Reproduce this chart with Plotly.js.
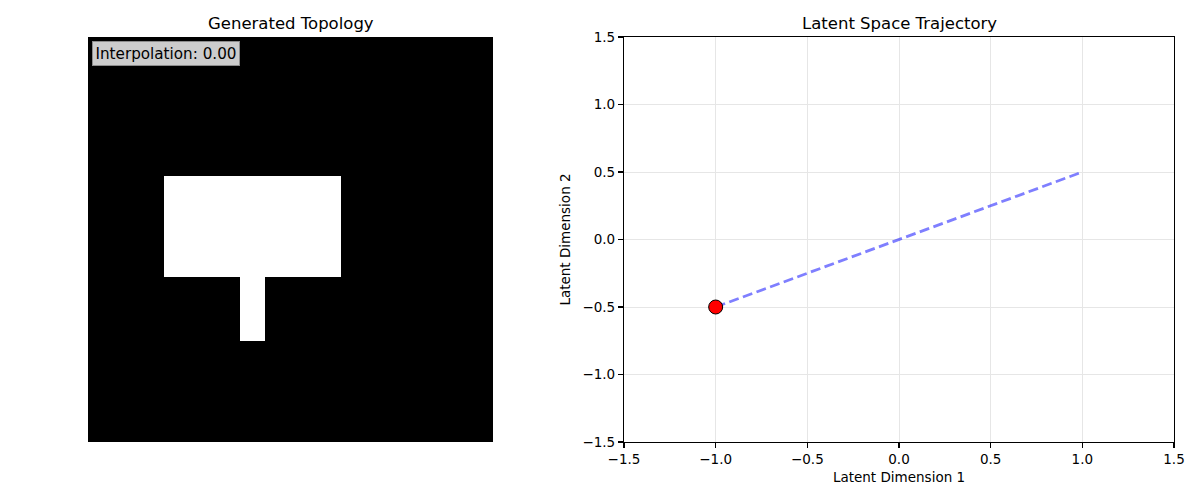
<!DOCTYPE html>
<html>
<head>
<meta charset="utf-8">
<script src="https://cdn.plot.ly/plotly-3.0.1.min.js"></script>
<style>html,body{margin:0;padding:0;background:#fff;}#chart{width:1200px;height:500px;}</style>
</head>
<body>
<div id="chart"></div>
<script>
// 32x32 binary topology grid (1 = material/white, 0 = void/black)
const topologyRows = [
  "00000000000000000000000000000000",
  "00000000000000000000000000000000",
  "00000000000000000000000000000000",
  "00000000000000000000000000000000",
  "00000000000000000000000000000000",
  "00000000000000000000000000000000",
  "00000000000000000000000000000000",
  "00000000000000000000000000000000",
  "00000000000000000000000000000000",
  "00000000000000000000000000000000",
  "00000000000000000000000000000000",
  "00000011111111111111000000000000",
  "00000011111111111111000000000000",
  "00000011111111111111000000000000",
  "00000011111111111111000000000000",
  "00000011111111111111000000000000",
  "00000011111111111111000000000000",
  "00000011111111111111000000000000",
  "00000011111111111111000000000000",
  "00000000000011000000000000000000",
  "00000000000011000000000000000000",
  "00000000000011000000000000000000",
  "00000000000011000000000000000000",
  "00000000000011000000000000000000",
  "00000000000000000000000000000000",
  "00000000000000000000000000000000",
  "00000000000000000000000000000000",
  "00000000000000000000000000000000",
  "00000000000000000000000000000000",
  "00000000000000000000000000000000",
  "00000000000000000000000000000000",
  "00000000000000000000000000000000"
];
const interpolationLabel = "Interpolation: 0.00";

// Latent trajectory
const trajX = [-1.0, 1.0];
const trajY = [-0.5, 0.5];
const currentX = [-1.0];
const currentY = [-0.5];
const tickVals = [-1.5, -1.0, -0.5, 0.0, 0.5, 1.0, 1.5];
const tickText = ["\u22121.5", "\u22121.0", "\u22120.5", "0.0", "0.5", "1.0", "1.5"];

const z = topologyRows.map(r => r.split("").map(Number));

const font = "DejaVu Sans, sans-serif";
const tickFont = {family: font, size: 13.5, color: "#000"};

const traces = [
  {
    type: "heatmap", z: z, xaxis: "x", yaxis: "y",
    colorscale: [[0, "#000000"], [1, "#ffffff"]], zmin: 0, zmax: 1,
    showscale: false, hoverinfo: "skip"
  },
  {
    type: "scatter", mode: "lines", x: trajX, y: trajY, xaxis: "x2", yaxis: "y2",
    line: {color: "rgba(0,0,255,0.5)", width: 2.8, dash: "10px,4.5px"},
    showlegend: false
  },
  {
    type: "scatter", mode: "markers", x: currentX, y: currentY, xaxis: "x2", yaxis: "y2",
    marker: {color: "#ff0000", size: 14, line: {color: "#000", width: 1}},
    showlegend: false
  }
];

const axCommon = {
  range: [-1.5, 1.5], tickvals: tickVals, ticktext: tickText,
  showgrid: true, gridcolor: "#e6e6e6", gridwidth: 1,
  zeroline: false, showline: true, linecolor: "#000", linewidth: 1.1, mirror: true,
  ticks: "outside", ticklen: 5, tickwidth: 1.1, tickcolor: "#000",
  tickfont: tickFont
};

const layout = {
  width: 1200, height: 500,
  margin: {l: 0, r: 0, t: 0, b: 0},
  paper_bgcolor: "#fff", plot_bgcolor: "#fff",
  showlegend: false,
  font: {family: font},
  xaxis: {domain: [88/1200, 493/1200], range: [-0.5, 31.5], visible: false, fixedrange: true},
  yaxis: {domain: [1 - 442/500, 1 - 37/500], range: [31.5, -0.5], visible: false, fixedrange: true},
  xaxis2: Object.assign({}, axCommon, {
    domain: [624/1200, 1174/1200], anchor: "y2",
    title: {text: "Latent Dimension 1", font: {family: font, size: 13.5, color: "#000"}, standoff: 6}
  }),
  yaxis2: Object.assign({}, axCommon, {
    domain: [1 - 442/500, 1 - 37/500], anchor: "x2",
    title: {text: "Latent Dimension 2", font: {family: font, size: 13.5, color: "#000"}, standoff: 8}
  }),
  annotations: [
    {text: "Generated Topology", xref: "paper", yref: "paper", x: 290.5/1200, y: 1 - 23/500,
     xanchor: "center", yanchor: "middle", showarrow: false, font: {family: font, size: 16.5, color: "#000"}},
    {text: "Latent Space Trajectory", xref: "paper", yref: "paper", x: 899/1200, y: 1 - 23/500,
     xanchor: "center", yanchor: "middle", showarrow: false, font: {family: font, size: 16.5, color: "#000"}},
    {text: interpolationLabel, xref: "paper", yref: "paper", x: 92/1200, y: 1 - 41.5/500,
     xanchor: "left", yanchor: "top", showarrow: false, align: "left",
     font: {family: font, size: 15.2, color: "#000"},
     bgcolor: "#cccccc", bordercolor: "#8c8c8c", borderwidth: 1, borderpad: 2.5}
  ]
};

Plotly.newPlot("chart", traces, layout, {displayModeBar: false, staticPlot: true});
</script>
</body>
</html>
